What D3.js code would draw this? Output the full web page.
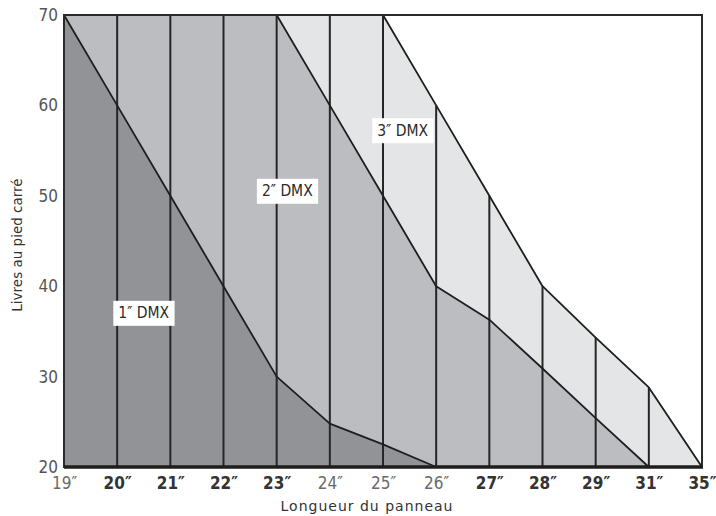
<!DOCTYPE html>
<html>
<head>
<meta charset="utf-8">
<script src="https://cdn.jsdelivr.net/npm/d3@7"></script>
<style>
  html, body { margin: 0; padding: 0; background: #fff; }
  svg { display: block; }
</style>
</head>
<body>
<svg id="chart" width="716" height="516"></svg>
<script>
// ---- data ----
const categories = ["19", "20", "21", "22", "23", "24", "25", "26", "27", "28", "29", "31", "35"];
const lightTicks = ["19", "24", "25", "26"];
const yTicks = [20, 30, 40, 50, 60, 70];
const seriesNames = ["3\u2033 DMX", "2\u2033 DMX", "1\u2033 DMX"];
const dmx3 = [70, 70, 70, 70, 70, 70, 70, 60, 50, 40, 34.3, 28.8, 20];
const dmx2 = [70, 70, 70, 70, 70, 60, 50, 40, 36.3, 30.9, 25.4, 20, null];
const dmx1 = [70, 60, 50, 40, 30, 24.8, 22.5, 20, null, null, null, null, null];
// label anchor: [category index position, value]
const labelPos3 = [6.37, 57.2];
const labelPos2 = [4.2, 50.5];
const labelPos1 = [1.5, 37.0];
const xTitle = "Longueur du panneau";
const yTitle = "Livres au pied carré";

// ---- drawing ----
const svg = d3.select("#chart");
const pLeft = 64, pRight = 702, pTop = 15, pBottom = 467;

const x = d3.scalePoint().domain(categories).range([pLeft, pRight]);
const y = d3.scaleLinear().domain([20, 70]).range([pBottom, pTop]);
const step = x.step();
const xi = i => pLeft + i * step;

const fills = ["#e4e5e7", "#bcbdc0", "#929397"];
const seriesData = [dmx3, dmx2, dmx1];
const labelPositions = [labelPos3, labelPos2, labelPos1];

const area = d3.area()
  .defined(d => d.v != null)
  .x(d => x(d.c))
  .y0(y(20))
  .y1(d => y(d.v));
const line = d3.line()
  .defined(d => d.v != null)
  .x(d => x(d.c))
  .y(d => y(d.v));

const g = svg.append("g");

seriesData.forEach((vals, k) => {
  const pts = categories.map((c, i) => ({ c, v: vals[i] }));
  g.append("path").datum(pts).attr("d", area).attr("fill", fills[k]).attr("stroke", "none");
});

// vertical grid lines up to envelope
categories.forEach((c, i) => {
  g.append("line")
    .attr("x1", x(c)).attr("x2", x(c))
    .attr("y1", y(20)).attr("y2", y(dmx3[i]))
    .attr("stroke", "#262626").attr("stroke-width", 2);
});

// series lines
seriesData.forEach((vals, k) => {
  const pts = categories.map((c, i) => ({ c, v: vals[i] }));
  g.append("path").datum(pts).attr("d", line)
    .attr("fill", "none").attr("stroke", "#1e1e1e").attr("stroke-width", 1.8)
    .attr("stroke-linejoin", "round");
});

// frame
g.append("rect")
  .attr("x", pLeft).attr("y", pTop)
  .attr("width", pRight - pLeft).attr("height", pBottom - pTop)
  .attr("fill", "none").attr("stroke", "#2a2a2a").attr("stroke-width", 2);

// bottom axis line thicker
g.append("line")
  .attr("x1", pLeft).attr("x2", pRight + 1)
  .attr("y1", pBottom).attr("y2", pBottom)
  .attr("stroke", "#1e1e1e").attr("stroke-width", 3.5);

// series labels
const narrow = "'Liberation Sans Narrow', 'DejaVu Sans Condensed', 'Arial Narrow', sans-serif";
seriesNames.forEach((name, k) => {
  const [pi, pv] = labelPositions[k];
  const cx = xi(pi), cy = y(pv);
  const t = g.append("text")
    .attr("x", cx).attr("y", cy)
    .attr("text-anchor", "middle").attr("dominant-baseline", "central")
    .attr("font-family", narrow).attr("font-size", 15.5)
    .attr("fill", "#2a2a2a").text(name);
  const bb = t.node().getBBox();
  g.insert("rect", () => t.node())
    .attr("x", bb.x - 5).attr("y", cy - 12.5)
    .attr("width", bb.width + 10).attr("height", 25)
    .attr("fill", "#fff");
});

// y axis tick labels
const yAxis = d3.axisLeft(y).tickValues(yTicks).tickSize(0).tickPadding(6).tickFormat(d3.format("d"));
const ya = svg.append("g").attr("transform", `translate(${pLeft},0)`).call(yAxis);
ya.select(".domain").remove();
ya.selectAll("text")
  .attr("font-family", narrow).attr("font-size", 17).attr("fill", "#555");

// x axis tick labels
const xAxis = d3.axisBottom(x).tickSize(0).tickPadding(10).tickFormat(d => d + "\u2033");
const xa = svg.append("g").attr("transform", `translate(0,${pBottom})`).call(xAxis);
xa.select(".domain").remove();
xa.selectAll("text")
  .attr("font-family", narrow).attr("font-size", 17)
  .attr("font-weight", d => lightTicks.includes(d) ? "normal" : "bold")
  .attr("fill", d => lightTicks.includes(d) ? "#6a6a6a" : "#333");

// axis titles
svg.append("text")
  .attr("x", 367).attr("y", 511)
  .attr("text-anchor", "middle")
  .attr("font-family", "'DejaVu Sans', sans-serif").attr("font-size", 14)
  .attr("letter-spacing", 1)
  .attr("fill", "#333").text(xTitle);
svg.append("text")
  .attr("transform", `translate(22,245) rotate(-90)`)
  .attr("text-anchor", "middle")
  .attr("font-family", "'DejaVu Sans', sans-serif").attr("font-size", 13.5)
  .attr("fill", "#333").text(yTitle);
</script>
</body>
</html>
